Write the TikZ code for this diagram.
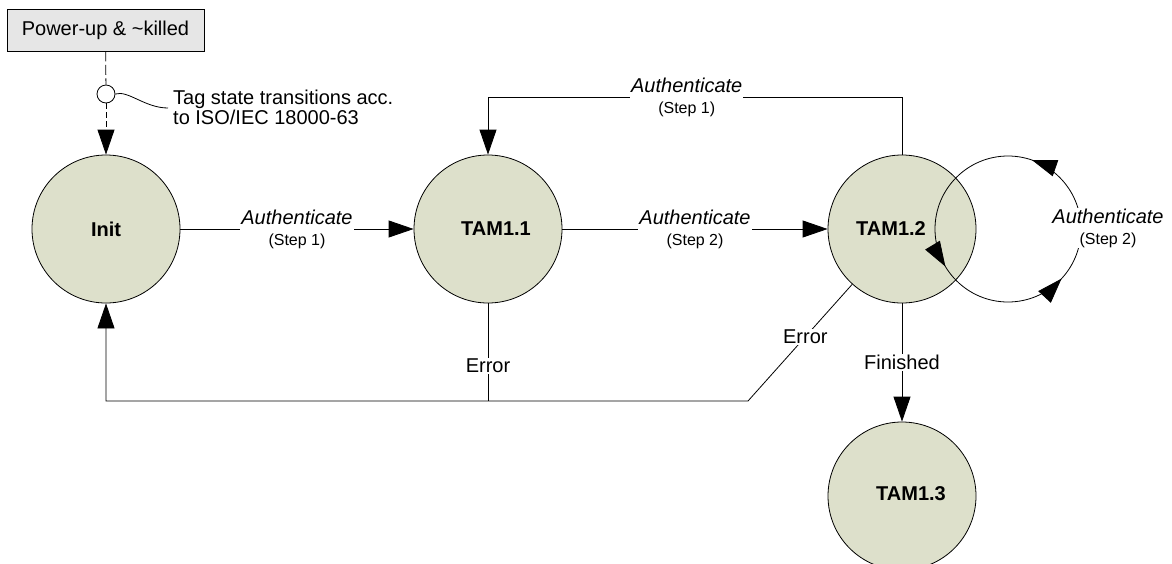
\documentclass[tikz,border=0pt]{standalone}
\usepackage{fontspec}
\setmainfont{Liberation Sans}
\usetikzlibrary{arrows.meta,decorations.markings,calc}

\definecolor{statefill}{RGB}{221,224,203}
\definecolor{boxfill}{RGB}{230,230,230}

\tikzset{
  state/.style={circle, draw=black, line width=0.8pt, fill=statefill,
    minimum size=148pt, inner sep=0pt,
    font=\fontsize{20}{24}\selectfont\bfseries},
  conn/.style={line width=0.8pt, draw=black},
  tip/.style={-{Triangle[length=25pt,width=17pt]}},
  lbl/.style={fill=white, inner sep=1pt, align=center,
    font=\fontsize{20}{24}\selectfont},
  longdash/.style={dash pattern=on 10pt off 3.5pt},
  shortdash/.style={dash pattern=on 6pt off 3pt},
  looparrows/.style={postaction={decorate}, decoration={markings,
    mark=at position 0.197 with {\arrow{Triangle[length=25pt,width=17pt]}},
    mark=at position 0.586 with {\arrow{Triangle[length=25pt,width=17pt]}},
    mark=at position 0.881 with {\arrow{Triangle[length=25pt,width=17pt]}}}}
}

\newcommand{\authlbl}[1]{\textit{Authenticate}\\[-3pt]{\fontsize{16}{19}\selectfont (Step #1)}}

\begin{document}
\begin{tikzpicture}[x=1pt, y=1pt]
  \useasboundingbox (0,0) rectangle (1172,-563);
  \clip (0,0) rectangle (1172,-563);

  % power-up box and annotation point
  \node[draw=black, line width=0.8pt, fill=boxfill, minimum width=197pt,
        minimum height=42pt, inner sep=0pt, font=\fontsize{20}{24}\selectfont]
        (pwr) at (105.5,-30) {Power-up \& \textasciitilde killed};
  \node[circle, draw=black, line width=0.8pt, fill=white, minimum size=18pt,
        inner sep=0pt] (ann) at (106,-94) {};
  \node[anchor=west, align=left, inner sep=0pt,
        font=\fontsize{20}{20}\selectfont] (note) at (173,-107)
        {Tag state transitions acc.\\to ISO/IEC 18000-63};

  % states
  \node[state] (init) at (106,-229) {};
  \node at (init) {\fontsize{20}{24}\selectfont\bfseries Init};
  \node[state] (t11) at (488,-229) {};
  \node at ($(t11)+(8,0)$) {\fontsize{20}{24}\selectfont\bfseries TAM1.1};
  \node[state] (t12) at (902,-229) {};
  \node at ($(t12)+(-11,0)$) {\fontsize{20}{24}\selectfont\bfseries TAM1.2};
  \node[state] (t13) at (902,-496) {};
  \node at ($(t13)+(9,2)$) {\fontsize{20}{24}\selectfont\bfseries TAM1.3};

  % auxiliary points
  \coordinate (top) at (902,-97);
  \coordinate (bend) at (748,-401);
  \coordinate (join) at (488,-401);
  \coordinate (lc) at (1008,-229);

  % power-up entry
  \draw[conn, longdash] (pwr) -- (ann);
  \draw[conn, shortdash, tip] (ann) -- (init);
  \draw[conn] (ann.east) .. controls (128,-90) and (145,-108) .. (168,-108);

  % main transitions
  \draw[conn, tip] (init) -- node[lbl] {\authlbl{1}} (t11);
  \draw[conn, tip] (t11) -- node[lbl] {\authlbl{2}} (t12);
  \draw[conn, tip] (t12.north) -- (top) -| node[lbl, pos=0.26] {\authlbl{1}} (t11.north);

  % self loop on TAM1.2
  \draw[conn, looparrows] (lc) circle[radius=73pt];
  \node[lbl] at (1108,-228) {\authlbl{2}};

  % error paths back to Init
  \draw[conn, tip] (t12.228) -- node[lbl, pos=0.45] {Error} (bend) -| (init.south);
  \draw[conn] (t11.south) -- node[lbl, pos=0.64] {Error} (join);

  % finished
  \draw[conn, tip] (t12.south) -- node[lbl] {Finished} (t13.north);
\end{tikzpicture}
\end{document}
